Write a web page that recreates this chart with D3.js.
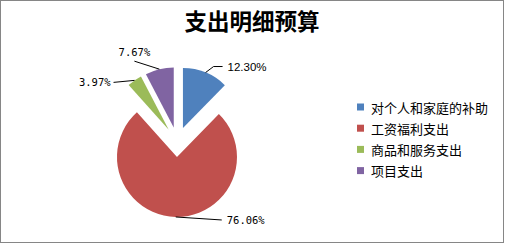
<!DOCTYPE html>
<html>
<head>
<meta charset="utf-8">
<script src="https://cdn.jsdelivr.net/npm/d3@7"></script>
<style>
  html, body { margin: 0; padding: 0; background: #fff; }
  svg { display: block; }
</style>
</head>
<body>
<svg id="chart" width="505" height="244"></svg>
<script>
// Budget breakdown data
const title = "支出明细预算";
const categories = ["对个人和家庭的补助", "工资福利支出", "商品和服务支出", "项目支出"];
const shares = [12.30, 76.06, 3.97, 7.67];
const labels = ["12.30%", "76.06%", "3.97%", "7.67%"];
const colors = ["#4F81BD", "#C0504D", "#9BBB59", "#8064A2"];

// Layout settings
const W = 505, H = 244;
const cx = 177.3, cy = 142, radius = 60, explode = 15;
// leader line bends relative to the slice edge point, and text placement
const leaderPts = [
  [[8, -6], [17, -6]],
  [[46, 3]],
  [[-21, 2]],
  [[-25, -8]]
];
const textPlace = [
  { dx: 5, dy: 0, anchor: "start", font: "'Liberation Sans', Arial, sans-serif", size: 11.5 },
  { dx: 5, dy: 0, anchor: "start", font: "'DejaVu Sans Mono', monospace", size: 10.5 },
  { dx: -3, dy: 0, anchor: "end", font: "'DejaVu Sans Mono', monospace", size: 10.5 },
  { dx: 0, dy: -9, anchor: "middle", font: "'DejaVu Sans Mono', monospace", size: 10.5 }
];

const svg = d3.select("#chart");

// Frame
svg.append("rect")
  .attr("x", 0.5).attr("y", 0.5)
  .attr("width", W - 2).attr("height", H - 2)
  .attr("fill", "#fff")
  .attr("stroke", "#868686")
  .attr("stroke-width", 1);

// Title
svg.append("text")
  .attr("x", 252).attr("y", 24)
  .attr("text-anchor", "middle")
  .attr("dominant-baseline", "middle")
  .attr("font-family", "'Noto Sans CJK SC', sans-serif")
  .attr("font-weight", 700)
  .attr("font-size", 22.5)
  .attr("fill", "#000")
  .text(title);

const pie = d3.pie().sort(null).value(d => d)(shares);
const arc = d3.arc().innerRadius(0).outerRadius(radius);

const slices = svg.append("g").attr("transform", `translate(${cx},${cy})`);

pie.forEach((p, i) => {
  const mid = (p.startAngle + p.endAngle) / 2;
  const ux = Math.sin(mid), uy = -Math.cos(mid);
  const ox = explode * ux, oy = explode * uy;

  slices.append("path")
    .attr("d", arc(p))
    .attr("transform", `translate(${ox},${oy})`)
    .attr("fill", colors[i]);

  // edge point at the slice's mid angle
  const sx = ox + radius * ux, sy = oy + radius * uy;
  const pts = [[sx, sy]].concat(leaderPts[i].map(o => [sx + o[0], sy + o[1]]));
  slices.append("path")
    .attr("d", d3.line()(pts))
    .attr("fill", "none")
    .attr("stroke", "#000")
    .attr("stroke-width", 1);

  const end = pts[pts.length - 1];
  const tp = textPlace[i];
  slices.append("text")
    .attr("x", end[0] + tp.dx)
    .attr("y", end[1] + tp.dy)
    .attr("text-anchor", tp.anchor)
    .attr("dominant-baseline", "central")
    .attr("font-family", tp.font)
    .attr("font-size", tp.size)
    .attr("fill", "#000")
    .text(labels[i]);
});

// Legend
const legend = svg.append("g").attr("transform", "translate(357,107)");
const rowH = 21.2;
categories.forEach((c, i) => {
  const g = legend.append("g").attr("transform", `translate(0,${i * rowH})`);
  g.append("rect")
    .attr("x", 0).attr("y", -3.5)
    .attr("width", 7).attr("height", 7)
    .attr("fill", colors[i]);
  g.append("text")
    .attr("x", 14).attr("y", 0)
    .attr("dominant-baseline", "central")
    .attr("font-family", "'Noto Sans CJK SC', sans-serif")
    .attr("font-size", 13)
    .attr("fill", "#000")
    .text(c);
});
</script>
</body>
</html>
